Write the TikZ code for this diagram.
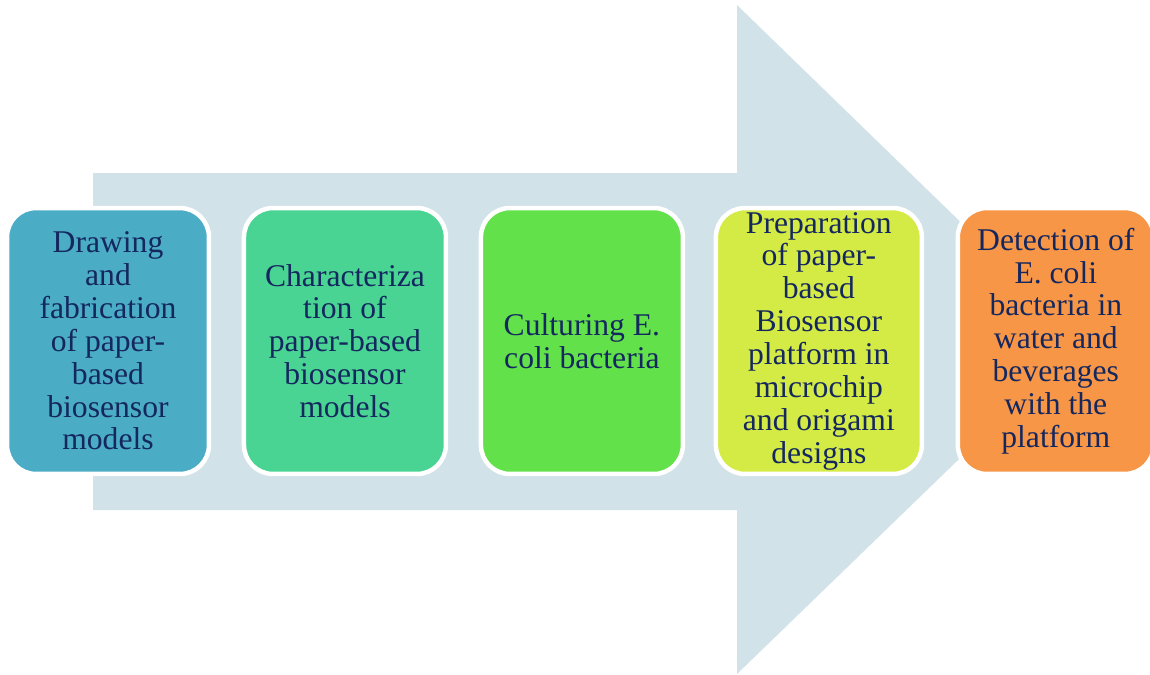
\documentclass[tikz,border=0pt]{standalone}
\usepackage{fontspec}
\setmainfont{Liberation Serif}
\usetikzlibrary{positioning}

\definecolor{arrowbg}{HTML}{D1E2E9}
\definecolor{navytext}{HTML}{14275E}
\definecolor{stageA}{HTML}{4BACC6}
\definecolor{stageB}{HTML}{4AD494}
\definecolor{stageC}{HTML}{62E14A}
\definecolor{stageD}{HTML}{D4EA45}
\definecolor{stageE}{HTML}{F79646}

\begin{document}
\begin{tikzpicture}[x=0.02cm, y=-0.02cm, node distance=4.74cm,
    every node/.style={font=\fontsize{18}{18.7}\selectfont, text=navytext, align=center},
    stagebox/.style={draw=white, line width=0.09cm, rounded corners=0.58cm,
      minimum width=4.04cm, minimum height=5.32cm, inner sep=0pt}]
    \useasboundingbox (0,0) rectangle (1150,674);
    % big arrow behind the stages
    \fill[arrowbg] (93,173) -- (737,173) -- (737,5) -- (1082,340)
      -- (737,674) -- (737,510) -- (93,510) -- cycle;
    \node[stagebox, fill=stageA] at (108,341) (fab) {Drawing\\and\\fabrication\\of paper-\\based\\biosensor\\models};
    \node[stagebox, fill=stageB, right of=fab] (charac) {Characteriza\\tion of\\paper-based\\biosensor\\models};
    \node[stagebox, fill=stageC, right of=charac] (culture) {Culturing E.\\coli bacteria};
    \node[stagebox, fill=stageD, right of=culture, minimum width=4.12cm] (prep) {Preparation\\of paper-\\based\\Biosensor\\platform in\\microchip\\and origami\\designs};
    \node[stagebox, fill=stageE, right of=prep, minimum width=3.92cm] (detect) {Detection of\\E. coli\\bacteria in\\water and\\beverages\\with the\\platform};
  \end{tikzpicture}
\end{document}
